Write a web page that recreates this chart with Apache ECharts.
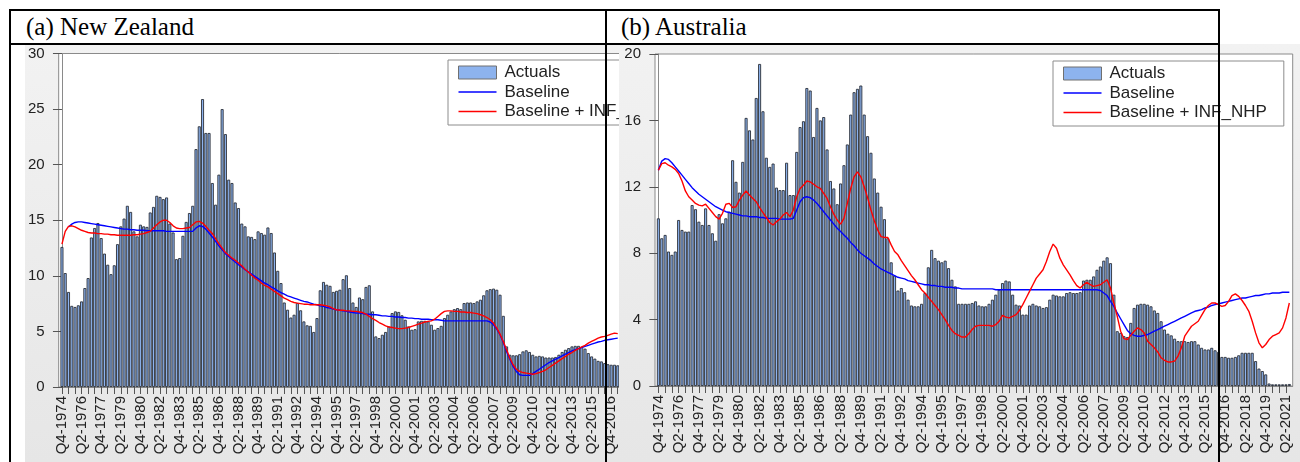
<!DOCTYPE html>
<html>
<head>
<meta charset="utf-8">
<title>Interest rates: actuals and model paths</title>
<script src="https://cdn.jsdelivr.net/npm/echarts@6/dist/echarts.min.js"></script>
<style>
  html, body { margin: 0; padding: 0; background: #fff; }
  #page { position: relative; width: 1300px; height: 462px; overflow: hidden; background: #fff; }
  .panel { position: absolute; background: linear-gradient(#f2f2f2, #e6e6e6); }
  #nz { left: 25px; top: 44px; width: 600px; height: 418px; z-index: 1; }
  #au { left: 619px; top: 44px; width: 681px; height: 418px; z-index: 2; }
  .rule { position: absolute; background: #000; z-index: 5; }
  .title { position: absolute; top: 11px; height: 32px; line-height: 32px; z-index: 5;
           font-family: "Liberation Serif", "Times New Roman", serif; font-size: 25px; color: #000; white-space: nowrap; }
</style>
</head>
<body>
<div id="page">
  <div id="nz" class="panel"></div>
  <div id="au" class="panel"></div>

  <div class="title" style="left:26px">(a) New Zealand</div>
  <div class="title" style="left:621px">(b) Australia</div>

  <div class="rule" style="left:9px;top:9px;width:1211px;height:2px"></div>
  <div class="rule" style="left:9px;top:43px;width:1211px;height:2px"></div>
  <div class="rule" style="left:9px;top:9px;width:2px;height:453px"></div>
  <div class="rule" style="left:605px;top:9px;width:2px;height:453px"></div>
  <div class="rule" style="left:1218px;top:9px;width:2px;height:453px"></div>
</div>

<script>
// ---- quarterly calendar, starting Q4-1974 ----
const START_YEAR = 1974;
const START_QUARTER = 4;
const QUARTERS = [];
for (let i = 0; i < 200; i++) {
  const q0 = START_QUARTER - 1 + i;
  QUARTERS.push('Q' + (q0 % 4 + 1) + '-' + (START_YEAR + Math.floor(q0 / 4)));
}

// ---- New Zealand (index 0 = Q4-1974) ----
const NZ_ACTUALS = [
  12.6, 10.25, 8.55, 7.3, 7.2, 7.35, 7.7, 8.9, 9.8, 13.45,
  14.3, 14.75, 13.4, 12.0, 11.0, 10.15, 10.95, 12.85, 14.45, 15.15,
  16.3, 15.75, 14.0, 13.55, 14.6, 14.45, 14.4, 15.7, 16.2, 17.2,
  17.1, 16.9, 17.05, 14.7, 13.9, 11.5, 11.6, 13.6, 14.85, 15.65,
  16.3, 21.4, 23.45, 25.9, 22.85, 22.85, 18.35, 16.4, 19.1, 25.0,
  22.75, 18.65, 18.35, 16.6, 16.1, 14.7, 14.45, 13.55, 13.5, 13.3,
  14.0, 13.85, 13.7, 14.35, 13.85, 12.1, 10.45, 9.35, 7.6, 6.95,
  6.25, 6.5, 7.55, 6.9, 5.9, 5.55, 5.5, 4.95, 6.2, 8.7,
  9.45, 9.2, 9.1, 8.55, 8.65, 8.75, 9.7, 10.05, 8.9, 7.6,
  7.2, 8.05, 7.9, 9.0, 9.15, 6.8, 4.55, 4.4, 4.7, 4.95,
  5.45, 6.65, 6.8, 6.75, 6.45, 6.05, 5.45, 5.15, 5.2, 5.9,
  5.95, 5.95, 5.9, 5.6, 5.15, 5.3, 5.5, 6.2, 6.5, 6.8,
  7.0, 7.1, 7.0, 7.55, 7.6, 7.6, 7.55, 7.7, 7.85, 8.25,
  8.7, 8.8, 8.85, 8.75, 8.3, 6.4, 3.65, 2.9, 2.85, 2.85,
  2.95, 3.2, 3.3, 3.15, 2.9, 2.75, 2.8, 2.75, 2.65, 2.65,
  2.65, 2.7, 2.9, 3.15, 3.35, 3.5, 3.65, 3.7, 3.7, 3.6,
  3.45, 3.05, 2.75, 2.55, 2.35, 2.3, 2.15, 2.05, 2.0, 2.0,
  1.95
];
const NZ_BASELINE = [
  null, null, 14.4, 14.65, 14.8, 14.85, 14.85, 14.8, 14.75, 14.7,
  14.65, 14.6, 14.55, 14.5, 14.45, 14.4, 14.35, 14.3, 14.25, 14.2,
  14.2, 14.15, 14.15, 14.1, 14.1, 14.1, 14.05, 14.05, 14.05, 14.05,
  14.05, 14.05, 14.0, 14.0, 14.0, 14.0, 14.0, 14.0, 14.0, 14.0,
  14.0, 14.3, 14.5, 14.45, 14.2, 13.85, 13.5, 13.1, 12.7, 12.35,
  12.0, 11.75, 11.5, 11.25, 11.0, 10.8, 10.55, 10.35, 10.15, 9.95,
  9.75, 9.55, 9.35, 9.2, 9.0, 8.85, 8.65, 8.5, 8.35, 8.2,
  8.1, 8.0, 7.9, 7.8, 7.7, 7.65, 7.55, 7.45, 7.4, 7.3,
  7.25, 7.15, 7.1, 7.0, 6.95, 6.9, 6.85, 6.8, 6.75, 6.7,
  6.65, 6.65, 6.6, 6.55, 6.55, 6.5, 6.5, 6.45, 6.4, 6.4,
  6.35, 6.35, 6.3, 6.3, 6.25, 6.25, 6.2, 6.2, 6.15, 6.15,
  6.1, 6.1, 6.1, 6.05, 6.05, 6.05, 6.0, 5.95, 5.95, 5.95,
  5.95, 5.95, 5.95, 5.95, 5.95, 5.95, 5.95, 5.95, 5.95, 5.95,
  5.95, 5.85, 5.6, 5.2, 4.7, 4.0, 3.2, 2.5, 1.85, 1.4,
  1.1, 1.05, 1.05, 1.05, 1.2, 1.4, 1.6, 1.8, 2.0, 2.2,
  2.35, 2.5, 2.65, 2.8, 2.95, 3.1, 3.25, 3.35, 3.45, 3.55,
  3.65, 3.75, 3.85, 3.95, 4.05, 4.1, 4.2, 4.25, 4.3, 4.35,
  4.4
];
const NZ_BASELINE_INF = [
  12.85, 14.0, 14.45, 14.5, 14.4, 14.25, 14.1, 14.0, 13.9, 13.85,
  13.85, 13.8, 13.8, 13.75, 13.75, 13.7, 13.7, 13.65, 13.65, 13.65,
  13.65, 13.65, 13.7, 13.7, 13.75, 13.8, 13.9, 14.0, 14.3, 14.6,
  14.85, 15.0, 15.0, 14.8, 14.5, 14.3, 14.25, 14.25, 14.3, 14.35,
  14.6, 14.85, 14.9, 14.75, 14.45, 14.1, 13.8, 13.35, 12.9, 12.5,
  12.1, 11.85, 11.6, 11.4, 11.15, 10.9, 10.6, 10.35, 10.05, 9.8,
  9.6, 9.35, 9.15, 9.0, 8.8, 8.6, 8.4, 8.2, 8.0, 7.85,
  7.7, 7.6, 7.55, 7.5, 7.45, 7.45, 7.4, 7.4, 7.4, 7.4,
  7.35, 7.3, 7.2, 7.05, 6.95, 6.9, 6.9, 6.85, 6.85, 6.8,
  6.8, 6.75, 6.7, 6.55, 6.35, 6.15, 6.0, 5.8, 5.65, 5.5,
  5.4, 5.35, 5.3, 5.25, 5.25, 5.3, 5.35, 5.45, 5.55, 5.65,
  5.75, 5.85, 5.9, 5.95, 6.1, 6.35, 6.6, 6.8, 6.85, 6.85,
  6.8, 6.8, 6.75, 6.75, 6.7, 6.7, 6.65, 6.6, 6.5, 6.4,
  6.25, 6.05, 5.75, 5.3, 4.75, 4.1, 3.35, 2.6, 2.0, 1.6,
  1.4, 1.3, 1.25, 1.2, 1.15, 1.2, 1.3, 1.4, 1.55, 1.75,
  1.95, 2.15, 2.35, 2.55, 2.75, 2.95, 3.1, 3.3, 3.45, 3.6,
  3.75, 3.95, 4.1, 4.25, 4.4, 4.5, 4.55, 4.65, 4.75, 4.85,
  4.8
];

// ---- Australia (index 0 = Q4-1974) ----
const AU_ACTUALS = [
  10.1, 8.9, 9.1, 8.1, 7.9, 8.1, 10.0, 9.4, 9.3, 9.3,
  10.9, 10.65, 9.9, 9.7, 10.7, 9.7, 9.2, 8.75, 10.35, 9.8,
  10.1, 10.5, 13.6, 12.3, 11.65, 13.5, 16.15, 15.4, 14.85, 17.35,
  19.4, 16.55, 13.75, 13.2, 13.4, 11.95, 11.8, 11.8, 13.45, 11.5,
  11.5, 14.1, 15.6, 15.95, 17.95, 17.8, 15.0, 16.75, 16.0, 16.2,
  14.25, 12.35, 11.9, 10.95, 12.2, 13.3, 14.55, 16.35, 17.7, 17.9,
  18.1, 16.35, 15.05, 14.05, 12.5, 11.65, 10.8, 10.05, 8.9, 7.45,
  6.65, 5.75, 5.9, 5.65, 5.2, 4.85, 4.8, 4.8, 4.95, 5.6,
  7.15, 8.2, 7.7, 7.55, 7.45, 7.55, 7.1, 6.4, 6.0, 4.95,
  4.95, 4.95, 4.95, 5.0, 5.1, 4.85, 4.8, 4.8, 4.95, 5.2,
  5.5, 5.8, 6.2, 6.35, 6.3, 5.5, 4.9, 4.85, 4.3, 4.3,
  4.85, 4.95, 4.85, 4.8, 4.7, 4.75, 5.2, 5.5, 5.45, 5.4,
  5.4, 5.6, 5.65, 5.6, 5.6, 5.65, 6.35, 6.4, 6.4, 6.6,
  7.0, 7.2, 7.55, 7.75, 7.4, 5.5, 3.3, 3.2, 3.0, 2.95,
  3.8, 4.7, 4.9, 4.95, 4.95, 4.9, 4.8, 4.55, 4.4, 3.9,
  3.4, 3.15, 3.05, 2.85, 2.7, 2.7, 2.7, 2.65, 2.7, 2.7,
  2.5, 2.3, 2.2, 2.2, 2.3, 2.15, 2.05, 1.75, 1.75, 1.7,
  1.7, 1.75, 1.85, 2.0, 2.0, 2.0, 2.0, 1.5, 1.05, 0.9,
  0.7, 0.15, 0.1, 0.1, 0.1, 0.1, 0.1, 0.12
];
const AU_BASELINE = [
  13.0, 13.55, 13.7, 13.65, 13.45, 13.2, 12.95, 12.7, 12.45, 12.2,
  11.95, 11.75, 11.55, 11.4, 11.25, 11.1, 10.95, 10.8, 10.7, 10.6,
  10.5, 10.45, 10.4, 10.35, 10.3, 10.25, 10.25, 10.2, 10.2, 10.2,
  10.15, 10.15, 10.1, 10.1, 10.1, 10.1, 10.05, 10.05, 10.05, 10.05,
  10.1, 10.6, 11.1, 11.35, 11.4, 11.35, 11.2, 11.0, 10.75, 10.5,
  10.25, 10.0, 9.75, 9.5, 9.3, 9.1, 8.9, 8.65, 8.45, 8.2,
  8.0, 7.85, 7.7, 7.55, 7.35, 7.2, 7.05, 6.95, 6.85, 6.75,
  6.65, 6.55, 6.5, 6.45, 6.35, 6.3, 6.25, 6.2, 6.15, 6.1,
  6.1, 6.05, 6.05, 6.0, 6.0, 5.95, 5.95, 5.95, 5.9, 5.9,
  5.85, 5.85, 5.85, 5.85, 5.85, 5.85, 5.85, 5.85, 5.85, 5.85,
  5.8, 5.8, 5.8, 5.8, 5.8, 5.8, 5.8, 5.8, 5.8, 5.8,
  5.8, 5.8, 5.8, 5.8, 5.8, 5.8, 5.8, 5.8, 5.8, 5.8,
  5.8, 5.8, 5.8, 5.8, 5.8, 5.8, 5.8, 5.8, 5.8, 5.8,
  5.8, 5.75, 5.6, 5.45, 5.1, 4.8, 4.4, 4.05, 3.7, 3.35,
  3.15, 3.05, 3.0, 3.0, 3.05, 3.1, 3.2, 3.3, 3.4, 3.5,
  3.6, 3.7, 3.8, 3.9, 4.0, 4.1, 4.2, 4.3, 4.4, 4.5,
  4.55, 4.6, 4.7, 4.75, 4.85, 4.9, 4.95, 5.0, 5.05, 5.1,
  5.15, 5.2, 5.25, 5.3, 5.3, 5.35, 5.4, 5.45, 5.45, 5.5,
  5.55, 5.55, 5.6, 5.6, 5.6, 5.65, 5.65, 5.65
];
const AU_BASELINE_INF = [
  13.0, 13.4, 13.45, 13.3, 13.2, 13.05, 12.8, 12.35, 11.75, 11.4,
  11.2, 11.0, 10.9, 10.85, 10.95, 10.7, 10.45, 10.2, 10.05, 10.4,
  10.95, 11.0, 10.75, 10.8, 11.2, 11.5, 11.75, 11.5, 11.3, 11.1,
  10.75, 10.45, 10.15, 9.85, 9.7, 9.9, 10.05, 10.3, 10.45, 10.2,
  10.6, 11.4, 11.9, 12.1, 12.35, 12.3, 12.15, 12.0, 11.9, 11.6,
  11.3, 10.8, 10.35, 10.0, 9.75, 10.1, 11.0, 11.9, 12.6, 12.9,
  12.6, 12.0, 11.35, 10.6, 9.95, 9.4, 9.0, 8.95, 8.95, 8.5,
  8.1, 7.9, 7.55, 7.25, 6.95, 6.65, 6.4, 6.1, 5.8, 5.6,
  5.35, 5.1, 4.85, 4.6, 4.3, 4.0, 3.65, 3.35, 3.15, 3.05,
  2.95, 2.95, 3.15, 3.4, 3.6, 3.65, 3.65, 3.65, 3.65, 3.6,
  3.7, 3.9, 4.25, 4.15, 4.1, 4.2, 4.3, 4.55, 4.9, 5.3,
  5.7, 6.1, 6.5, 6.75, 7.0, 7.5, 8.1, 8.55, 8.3, 7.7,
  7.3, 7.0, 6.7, 6.35, 6.05, 5.9, 6.1, 6.25, 6.1, 6.0,
  6.05, 6.1, 6.25, 6.4, 5.9, 5.0, 4.2, 3.3, 2.85, 2.8,
  3.05, 3.3, 3.5, 3.4, 3.2, 2.7, 2.5, 2.3, 2.05, 1.7,
  1.55, 1.45, 1.45, 1.5, 1.8, 2.3, 3.0, 3.3, 3.6, 3.75,
  3.9, 4.25, 4.6, 4.85, 5.0, 5.0, 4.9, 4.8, 4.85, 5.1,
  5.45, 5.55, 5.4, 5.15, 4.85, 4.5, 3.9, 3.2, 2.6, 2.3,
  2.5, 2.8, 3.0, 3.1, 3.2, 3.5, 4.1, 5.0
];

// ---- legend / axis names ----
const SERIES_NAMES = ['Actuals', 'Baseline', 'Baseline + INF_NHP'];
const NZ_Y_TICKS = { min: 0, max: 30, step: 5 };
const AU_Y_TICKS = { min: 0, max: 20, step: 4 };

// label every 6th quarter, tick every 2nd quarter
function everyNth(last, n) {
  const out = [];
  for (let i = 0; i <= last; i += n) out.push(i);
  return out;
}
const NZ_LABEL_AT = everyNth(168, 6);
const NZ_TICK_AT = everyNth(170, 2);
const AU_LABEL_AT = everyNth(186, 6);
const AU_TICK_AT = everyNth(187, 2);

const FONT = '"Liberation Sans", Arial, Helvetica, sans-serif';
const AXIS_GRAY = '#8a8a8a';
// thin horizontal stroke used as the legend key of a line series
const LINE_KEY = 'path://M0,0H38V1.4H0Z';

function pairs(values) {
  const out = [];
  values.forEach((v, i) => { if (v !== null && v !== undefined) out.push([i, v]); });
  return out;
}

function panelOption(p) {
  return {
    animation: false,
    textStyle: { fontFamily: FONT },
    grid: {
      left: p.grid.left, top: p.grid.top, width: p.grid.width, height: p.grid.height,
      show: true, backgroundColor: '#ffffff', borderColor: AXIS_GRAY, borderWidth: 1
    },
    legend: {
      orient: 'vertical',
      left: p.legend.left, top: p.legend.top,
      itemWidth: 38, itemHeight: 13, itemGap: 0.5,
      symbolKeepAspect: true,
      padding: [3, 17, 4, 10],
      backgroundColor: '#ffffff', borderColor: '#8c8c8c', borderWidth: 1,
      textStyle: { fontFamily: FONT, fontSize: 17, lineHeight: 19, color: '#222', padding: [0, 0, 0, 3] },
      data: [
        { name: SERIES_NAMES[0], icon: 'rect', itemStyle: { color: '#8db3ee', borderColor: '#707070', borderWidth: 1 } },
        { name: SERIES_NAMES[1], icon: LINE_KEY },
        { name: SERIES_NAMES[2], icon: LINE_KEY }
      ]
    },
    xAxis: {
      type: 'value', min: -1, max: p.xMax,
      axisLine: { show: true, onZero: false, lineStyle: { color: AXIS_GRAY } },
      splitLine: { show: false },
      axisTick: { show: true, customValues: p.tickAt, length: 7, lineStyle: { color: '#555' } },
      axisLabel: {
        show: true, customValues: p.labelAt, rotate: 90, margin: 9,
        fontFamily: FONT, fontSize: 15, color: '#222',
        formatter: (v) => QUARTERS[Math.round(v)]
      }
    },
    yAxis: {
      type: 'value', min: p.y.min, max: p.y.max, interval: p.y.step,
      axisLine: { show: true, lineStyle: { color: AXIS_GRAY } },
      splitLine: { show: false },
      axisTick: { show: true, length: 9, lineStyle: { color: '#555' } },
      axisLabel: { margin: 14, fontFamily: FONT, fontSize: 15, color: '#222' }
    },
    series: [
      {
        name: SERIES_NAMES[0], type: 'bar', barWidth: 3,
        data: pairs(p.actuals),
        itemStyle: { color: '#8db3ee', borderColor: '#2a2f38', borderWidth: 0.9 }
      },
      {
        name: SERIES_NAMES[1], type: 'line', symbol: 'none', showSymbol: false,
        data: pairs(p.baseline),
        lineStyle: { color: '#0000ff', width: 1.4 }, itemStyle: { color: '#0000ff' }
      },
      {
        name: SERIES_NAMES[2], type: 'line', symbol: 'none', showSymbol: false,
        data: pairs(p.inf),
        lineStyle: { color: '#ff0000', width: 1.4 }, itemStyle: { color: '#ff0000' }
      }
    ]
  };
}

const nzChart = echarts.init(document.getElementById('nz'), null, { renderer: 'canvas' });
nzChart.setOption(panelOption({
  grid: { left: 33, top: 9.5, width: 563, height: 333.5 },
  legend: { left: 423, top: 16 },
  xMax: 171, y: NZ_Y_TICKS,
  labelAt: NZ_LABEL_AT, tickAt: NZ_TICK_AT,
  actuals: NZ_ACTUALS, baseline: NZ_BASELINE, inf: NZ_BASELINE_INF
}));

const auChart = echarts.init(document.getElementById('au'), null, { renderer: 'canvas' });
auChart.setOption(panelOption({
  grid: { left: 36, top: 10, width: 637.7, height: 332 },
  legend: { left: 434, top: 17 },
  xMax: 188, y: AU_Y_TICKS,
  labelAt: AU_LABEL_AT, tickAt: AU_TICK_AT,
  actuals: AU_ACTUALS, baseline: AU_BASELINE, inf: AU_BASELINE_INF
}));
</script>
</body>
</html>
